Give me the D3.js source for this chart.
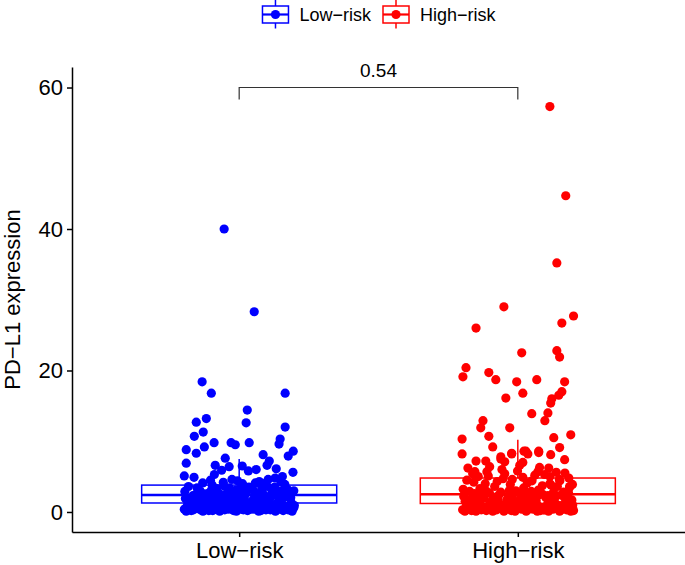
<!DOCTYPE html>
<html>
<head>
<meta charset="utf-8">
<script src="https://cdn.jsdelivr.net/npm/d3@7"></script>
<style>
  body { margin: 0; background: #fff; }
  svg { display: block; font-family: "Liberation Sans", Arial, Helvetica, sans-serif; }
</style>
</head>
<body>
<div id="chart"></div>
<script>
// Groups and colours
const groups = ['Low\u2212risk', 'High\u2212risk'];
const groupColors = ['#0000FF', '#FF0000'];

// Box statistics: [whiskerLo, q1, median, q3, whiskerHi]
const lowBox = [0.05, 1.27, 2.4, 3.8, 7.5];
const highBox = [0.05, 1.2, 2.5, 4.8, 10.2];

// Jittered points: [offset from group centre (x units), PD-L1 expression]
const lowPoints = [
  [-0.054, 40.0], [0.054, 28.3],
  [-0.133, 18.4], [-0.1, 16.8], [0.165, 16.8], [0.029, 14.4], [0.025, 12.6], [-0.154, 12.7],
  [-0.118, 13.2], [0.165, 12.0], [-0.129, 11.3], [-0.161, 10.7], [-0.09, 9.8], [-0.029, 9.8],
  [-0.014, 9.5], [0.036, 9.8], [0.147, 10.3], [0.143, 9.6], [-0.125, 9.2], [-0.19, 8.8],
  [-0.154, 8.3], [0.194, 8.6], [0.176, 7.9], [0.086, 8.1], [0.108, 7.2], [-0.19, 6.9],
  [-0.05, 7.6], [-0.086, 6.6], [-0.036, 6.4], [0.1, 6.6], [0.011, 6.5], [-0.197, 5.1],
  [0.133, 6.1], [0.061, 6.0],
  [-0.197, 0.4], [-0.185, 1.1], [-0.172, 0.2], [-0.166, 2.3], [-0.158, 0.7], [-0.151, 3.4],
  [-0.143, 1.6], [-0.139, 0.3], [-0.131, 4.1], [-0.126, 0.9], [-0.118, 2.0], [-0.112, 0.5],
  [-0.107, 1.3], [-0.101, 3.0], [-0.095, 0.2], [-0.089, 5.3], [-0.083, 1.8], [-0.078, 0.6],
  [-0.072, 2.6], [-0.066, 0.3], [-0.061, 1.0], [-0.055, 3.7], [-0.049, 0.8], [-0.044, 2.2],
  [-0.038, 0.4], [-0.031, 1.5], [-0.026, 4.6], [-0.020, 0.2], [-0.014, 2.8], [-0.009, 1.1],
  [-0.003, 0.5], [0.004, 3.3], [0.010, 1.7], [0.015, 0.3], [0.021, 2.4], [0.027, 0.9],
  [0.033, 5.8], [0.038, 1.3], [0.044, 0.4], [0.050, 3.1], [0.055, 2.0], [0.061, 0.6],
  [0.067, 1.4], [0.072, 4.3], [0.078, 0.2], [0.084, 2.7], [0.089, 1.0], [0.095, 0.5],
  [0.101, 3.6], [0.107, 1.9], [0.112, 0.3], [0.118, 2.3], [0.124, 0.8], [0.129, 4.8],
  [0.135, 1.2], [0.141, 0.4], [0.147, 2.9], [0.152, 1.6], [0.158, 0.2], [0.164, 3.9],
  [0.170, 0.7], [0.176, 2.1], [0.181, 0.4], [0.187, 1.3], [0.193, 5.6], [0.198, 0.9],
  [-0.193, 1.9], [-0.176, 0.8], [-0.162, 4.9], [-0.147, 0.5], [-0.134, 2.7], [-0.121, 1.4],
  [-0.109, 0.2], [-0.097, 3.8], [-0.085, 0.9], [-0.074, 1.6], [-0.063, 5.9], [-0.052, 0.3],
  [-0.041, 2.9], [-0.029, 1.2], [-0.017, 0.6], [-0.006, 4.4], [0.007, 0.4], [0.018, 1.8],
  [0.029, 3.0], [0.041, 0.7], [0.052, 1.1], [0.063, 2.6], [0.075, 0.3], [0.086, 4.0],
  [0.098, 1.4], [0.109, 0.6], [0.121, 3.2], [0.132, 0.2], [0.144, 1.8], [0.155, 5.0],
  [0.167, 0.5], [0.179, 2.5], [0.190, 1.0],
  [-0.19, 0.1], [-0.17, 1.4], [-0.15, 0.9], [-0.13, 0.1], [-0.11, 1.7], [-0.09, 0.7],
  [-0.07, 0.1], [-0.05, 1.2], [-0.03, 0.8], [-0.01, 0.1], [0.01, 1.3], [0.03, 0.2],
  [0.05, 0.9], [0.07, 0.1], [0.09, 1.6], [0.11, 0.7], [0.13, 0.1], [0.15, 1.1],
  [0.17, 0.8], [0.19, 0.1],
  [-0.195, 2.9], [-0.182, 3.6], [-0.168, 1.3], [-0.155, 2.5], [-0.141, 3.0], [-0.127, 1.9],
  [-0.114, 2.6], [-0.103, 4.5], [-0.091, 2.3], [-0.08, 3.3], [-0.068, 1.9], [-0.057, 4.2],
  [-0.046, 2.5], [-0.035, 3.4], [-0.023, 1.8], [-0.011, 3.1], [0.0, 2.1], [0.012, 4.0],
  [0.024, 2.7], [0.035, 3.5], [0.047, 1.6], [0.058, 4.1], [0.07, 2.2], [0.081, 3.4],
  [0.093, 2.0], [0.104, 4.6], [0.116, 2.6], [0.127, 3.5], [0.139, 2.2], [0.15, 4.2],
  [0.162, 2.7], [0.173, 3.2], [0.185, 2.0], [0.196, 3.0],
  [-0.186, 0.6], [-0.164, 0.3], [-0.144, 1.0], [-0.124, 0.5], [-0.104, 0.9], [-0.084, 0.4],
  [-0.064, 0.7], [-0.044, 1.0], [-0.024, 0.4], [-0.004, 0.8], [0.016, 0.6], [0.036, 1.0],
  [0.056, 0.4], [0.076, 0.8], [0.096, 0.3], [0.116, 1.1], [0.136, 0.6], [0.156, 0.9],
  [0.176, 0.3], [0.196, 0.6]
];

const highPoints = [
  [0.115, 57.3], [0.172, 44.7], [0.14, 35.2], [-0.05, 29.0], [-0.15, 26.0], [0.158, 26.7],
  [0.2, 27.7], [0.014, 22.5], [0.14, 22.8], [0.15, 21.9], [-0.186, 20.4], [-0.197, 19.1],
  [-0.104, 19.7], [-0.079, 18.7], [-0.004, 18.4], [0.068, 18.7], [0.168, 18.4], [0.018, 16.8],
  [-0.043, 16.1], [0.158, 17.0], [0.147, 16.5], [0.122, 16.0], [0.118, 15.4], [0.05, 13.9],
  [0.108, 14.0], [0.097, 12.9], [-0.125, 12.9], [-0.133, 11.9], [-0.029, 11.9], [-0.2, 10.3],
  [-0.104, 10.7], [-0.09, 9.2], [0.129, 10.5], [0.19, 10.9], [0.15, 9.1], [-0.2, 8.2],
  [0.075, 8.6], [-0.022, 8.3], [0.029, 8.6], [-0.061, 7.8],
  [-0.179, 6.2], [-0.15, 7.2], [-0.115, 7.2], [-0.061, 7.5], [-0.047, 7.1], [-0.022, 8.2],
  [0.022, 8.6], [0.036, 8.2], [0.075, 8.4], [0.118, 8.1], [0.168, 7.4], [0.111, 6.2],
  [0.072, 5.7], [0.018, 7.0], [-0.154, 5.7], [-0.111, 5.7], [0.151, 4.4], [0.115, 4.0],
  [0.186, 3.6],
  [-0.198, 0.3], [-0.189, 1.5], [-0.181, 0.6], [-0.173, 2.9], [-0.166, 0.2], [-0.158, 4.2],
  [-0.151, 1.1], [-0.143, 0.4], [-0.136, 3.3], [-0.128, 0.8], [-0.121, 2.0], [-0.113, 0.2],
  [-0.106, 5.1], [-0.098, 1.4], [-0.091, 0.6], [-0.083, 3.6], [-0.076, 0.3], [-0.068, 2.4],
  [-0.061, 1.0], [-0.053, 4.7], [-0.046, 0.5], [-0.038, 1.8], [-0.031, 3.0], [-0.023, 0.2],
  [-0.016, 2.6], [-0.008, 0.9], [-0.001, 5.8], [0.006, 1.3], [0.014, 0.4], [0.021, 3.4],
  [0.029, 1.9], [0.036, 0.3], [0.044, 2.2], [0.051, 4.4], [0.059, 0.7], [0.066, 1.6],
  [0.074, 3.1], [0.081, 0.2], [0.089, 2.5], [0.096, 5.3], [0.104, 0.9], [0.111, 1.4],
  [0.119, 3.8], [0.126, 0.4], [0.134, 2.1], [0.141, 1.0], [0.149, 4.6], [0.156, 0.3],
  [0.164, 2.8], [0.171, 1.2], [0.179, 0.5], [0.186, 3.5], [0.194, 1.7], [0.2, 0.2],
  [-0.194, 2.2], [-0.177, 0.9], [-0.162, 5.4], [-0.146, 1.7], [-0.131, 0.3], [-0.117, 4.0],
  [-0.102, 2.7], [-0.087, 0.7], [-0.072, 1.3], [-0.057, 6.0], [-0.042, 0.4], [-0.027, 3.9],
  [-0.012, 1.5], [0.003, 0.8], [0.018, 4.9], [0.033, 0.6], [0.048, 2.9], [0.063, 1.1],
  [0.078, 6.3], [0.093, 0.3], [0.108, 2.3], [0.123, 1.6], [0.138, 5.6], [0.153, 0.7],
  [0.168, 2.0], [0.183, 4.8], [0.197, 1.0],
  [-0.19, 0.1], [-0.17, 1.2], [-0.15, 0.1], [-0.13, 1.9], [-0.11, 0.6], [-0.09, 0.1],
  [-0.07, 1.7], [-0.05, 0.1], [-0.03, 1.1], [-0.01, 0.1], [0.01, 2.0], [0.03, 0.1],
  [0.05, 1.2], [0.07, 0.1], [0.09, 0.6], [0.11, 0.1], [0.13, 1.5], [0.15, 0.1],
  [0.17, 0.9], [0.19, 0.1],
  [-0.196, 3.2], [-0.183, 4.5], [-0.169, 1.8], [-0.156, 2.6], [-0.142, 5.0], [-0.128, 2.3],
  [-0.115, 3.0], [-0.101, 6.4], [-0.088, 2.1], [-0.074, 4.3], [-0.061, 2.8], [-0.047, 5.4],
  [-0.034, 2.2], [-0.02, 4.6], [-0.007, 3.0], [0.007, 6.6], [0.02, 2.6], [0.034, 4.1],
  [0.047, 1.9], [0.061, 5.2], [0.074, 2.4], [0.088, 3.7], [0.101, 2.0], [0.115, 5.0],
  [0.128, 2.8], [0.142, 3.6], [0.155, 2.4], [0.169, 5.5], [0.182, 2.7], [0.196, 3.9],
  [-0.187, 0.6], [-0.166, 0.3], [-0.145, 1.0], [-0.125, 0.5], [-0.105, 0.9], [-0.085, 0.4],
  [-0.065, 0.7], [-0.045, 1.0], [-0.025, 0.4], [-0.005, 0.8], [0.015, 0.6], [0.035, 1.0],
  [0.055, 0.4], [0.075, 0.8], [0.095, 0.3], [0.115, 1.1], [0.135, 0.6], [0.155, 0.9],
  [0.175, 0.3], [0.195, 0.6]
];

// Comparison bracket: [y of bar, y of leg ends, y of label] and p-value label
const bracketValues = [60.0, 58.3, 61.2];
const pLabel = '0.54';

const yTicks = [0, 20, 40, 60];
const yTitle = 'PD\u2212L1 expression';

// Layout
const W = 685, H = 565;
const plot = { left: 72, right: 685, top: 67, bottom: 532 };
const boxWidth = 0.7;   // in x units (one unit = distance between groups)
const pointR = 4.6;

const svg = d3.select('#chart').append('svg')
  .attr('width', W)
  .attr('height', H);

// Scales
const x = d3.scalePoint()
  .domain(groups)
  .range([plot.left, plot.right])
  .padding(0.6);
const unit = x.step();

const y = d3.scaleLinear()
  .domain([-2.83, 62.9])
  .range([plot.bottom, plot.top]);

const boxes = [lowBox, highBox];
const points = [lowPoints, highPoints];

// Boxes
groups.forEach((g, i) => {
  const [lo, q1, med, q3, hi] = boxes[i];
  const cx = x(g);
  const bw = boxWidth * unit;
  const gBox = svg.append('g').attr('stroke', groupColors[i]).attr('fill', 'none');
  gBox.append('line')
    .attr('x1', cx).attr('x2', cx)
    .attr('y1', y(q3)).attr('y2', y(hi))
    .attr('stroke-width', 1.5);
  gBox.append('line')
    .attr('x1', cx).attr('x2', cx)
    .attr('y1', y(q1)).attr('y2', y(lo))
    .attr('stroke-width', 1.5);
  gBox.append('rect')
    .attr('x', cx - bw / 2)
    .attr('y', y(q3))
    .attr('width', bw)
    .attr('height', y(q1) - y(q3))
    .attr('fill', '#fff')
    .attr('stroke-width', 1.5);
  gBox.append('line')
    .attr('x1', cx - bw / 2).attr('x2', cx + bw / 2)
    .attr('y1', y(med)).attr('y2', y(med))
    .attr('stroke-width', 2.6);
});

// Jittered points
groups.forEach((g, i) => {
  svg.append('g')
    .selectAll('circle')
    .data(points[i])
    .enter()
    .append('circle')
    .attr('cx', d => x(g) + d[0] * unit)
    .attr('cy', d => y(d[1]))
    .attr('r', pointR)
    .attr('fill', groupColors[i]);
});

// Axes
const yAxis = svg.append('g')
  .attr('transform', `translate(${plot.left},0)`)
  .call(d3.axisLeft(y).tickValues(yTicks).tickSize(5).tickSizeOuter(0).tickPadding(4));
const xAxis = svg.append('g')
  .attr('transform', `translate(0,${plot.bottom})`)
  .call(d3.axisBottom(x).tickSize(5).tickSizeOuter(0).tickPadding(5));

[yAxis, xAxis].forEach(ax => {
  ax.select('.domain').attr('stroke', '#000').attr('stroke-width', 1.5);
  ax.selectAll('.tick line').attr('stroke', '#000').attr('stroke-width', 1.5);
  ax.selectAll('.tick text')
    .attr('fill', '#000')
    .style('font-size', '22px')
    .style('font-family', '"Liberation Sans", Arial, sans-serif');
});

svg.append('text')
  .attr('transform', `translate(20,${(plot.top + plot.bottom) / 2}) rotate(-90)`)
  .attr('text-anchor', 'middle')
  .style('font-size', '22px')
  .text(yTitle);

// Bracket with p-value
const [barY, legY, labY] = bracketValues;
svg.append('path')
  .attr('d', `M${x(groups[0])},${y(legY)}V${y(barY)}H${x(groups[1])}V${y(legY)}`)
  .attr('fill', 'none')
  .attr('stroke', '#333')
  .attr('stroke-width', 1.2);
svg.append('text')
  .attr('x', (x(groups[0]) + x(groups[1])) / 2)
  .attr('y', y(labY) - 2)
  .attr('text-anchor', 'middle')
  .style('font-size', '19px')
  .text(pLabel);

// Legend
const legend = svg.append('g');
const keyW = 28, gapKT = 10, gapItems = 11, legendY = 14.5;
const legendFont = 18;
const tmp = svg.append('text').style('font-size', legendFont + 'px');
const textW = groups.map(g => { tmp.text(g); return tmp.node().getComputedTextLength(); });
tmp.remove();
const totalW = groups.reduce((s, g, i) => s + keyW + gapKT + textW[i], 0) + gapItems;
let lx = (plot.left + plot.right) / 2 - totalW / 2;
groups.forEach((g, i) => {
  const k = legend.append('g').attr('stroke', groupColors[i]).attr('fill', 'none').attr('stroke-width', 1.5);
  const kc = lx + keyW / 2;
  k.append('line').attr('x1', kc).attr('x2', kc).attr('y1', 0).attr('y2', legendY - 8.5);
  k.append('line').attr('x1', kc).attr('x2', kc).attr('y1', legendY + 8.5).attr('y2', legendY + 14);
  k.append('rect').attr('x', lx + 1).attr('y', legendY - 8.5).attr('width', keyW - 2).attr('height', 17);
  k.append('line').attr('x1', lx + 1).attr('x2', lx + keyW - 1).attr('y1', legendY).attr('y2', legendY).attr('stroke-width', 2.2);
  legend.append('circle').attr('cx', kc).attr('cy', legendY).attr('r', 4.6).attr('fill', groupColors[i]);
  legend.append('text')
    .attr('x', lx + keyW + gapKT)
    .attr('y', legendY)
    .attr('dy', '0.35em')
    .style('font-size', legendFont + 'px')
    .text(g);
  lx += keyW + gapKT + textW[i] + gapItems;
});
</script>
</body>
</html>
